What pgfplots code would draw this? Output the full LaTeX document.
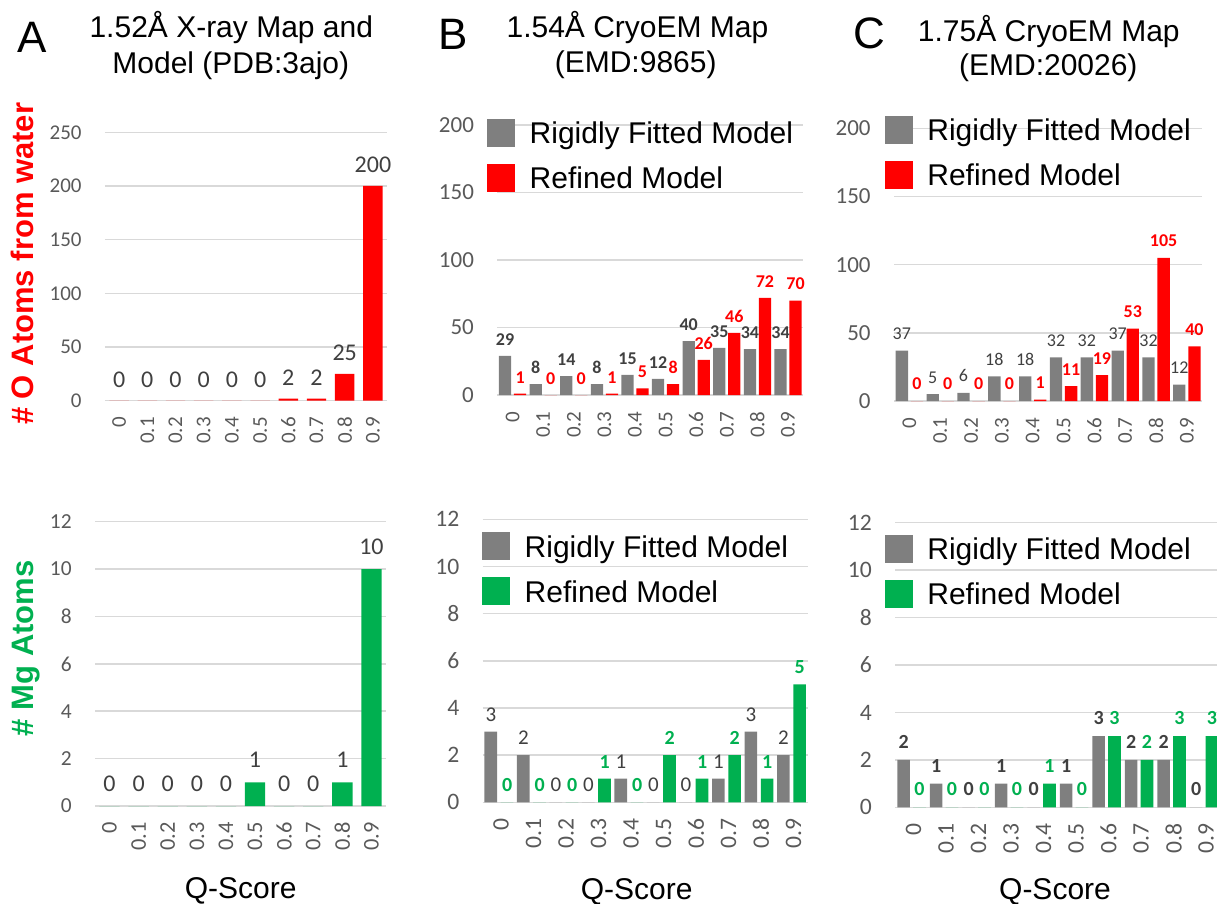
\documentclass[border=0pt]{standalone}
\usepackage{fontspec}
\setmainfont{Carlito}
\newfontfamily\arial{Liberation Sans}
\usepackage{pgfplots}
\pgfplotsset{compat=1.18}
\definecolor{barred}{HTML}{FF0000}
\definecolor{bargreen}{HTML}{00B050}
\definecolor{bargray}{HTML}{7F7F7F}
\definecolor{gridgray}{HTML}{D9D9D9}
\definecolor{tickgray}{HTML}{595959}
\definecolor{labgray}{HTML}{404040}
\pgfplotsset{
  base/.style={
    scale only axis, anchor=south west,
    ybar, xmin=-0.5, xmax=9.5, ymin=0,
    xtick={0,...,9}, xticklabels={0,0.1,0.2,0.3,0.4,0.5,0.6,0.7,0.8,0.9},
    axis line style={draw=none}, major tick length=0pt,
    ymajorgrids, grid style={gridgray, line width=0.75pt},
    /pgf/number format/assume math mode=true,
    tick label style={tickgray},
    xticklabel style={yshift=-8pt, rotate=90, anchor=east, inner sep=0pt},
    yticklabel style={anchor=east, inner sep=0pt, xshift=-11.5pt},
    clip=false,
    nodes near coords,
    every node near coord/.append style={inner sep=0pt, anchor=south},
  },
  sqlegend/.style={legend image code/.code={\fill[##1] (0pt,-5.45pt) rectangle (14pt,8.55pt);}},
  mylegend/.style 2 args={legend style={draw=none, fill=none, inner sep=0pt, outer sep=0pt,
      at={(#1,#2)}, anchor=north west, legend cell align=left, row sep=6.9pt, column sep=7.2pt,
      font=\arial\fontsize{15}{18}\selectfont,
      nodes={inner sep=0pt, text height=10.9pt, text depth=3.2pt}}},
}
\begin{document}
\begin{tikzpicture}
\path[use as bounding box] (0,0) rectangle (608.5pt,-452pt);
% titles
\begin{scope}[every node/.style={inner sep=0pt, anchor=base, font=\arial\fontsize{15}{18}\selectfont}]
\node at (115.65pt,-18.85pt) {1.52Å X-ray Map and};
\node at (115.4pt,-36.65pt) {Model (PDB:3ajo)};
\node at (318.75pt,-18.65pt) {1.54Å CryoEM Map};
\node at (317.85pt,-36.35pt) {(EMD:9865)};
\node at (524.4pt,-20.85pt) {1.75Å CryoEM Map};
\node at (524.15pt,-38pt) {(EMD:20026)};
\end{scope}
\begin{scope}[every node/.style={inner sep=0pt, anchor=base, font=\arial\fontsize{22}{24}\selectfont}]
\node at (15.85pt,-26.15pt) {A};
\node at (226.65pt,-25pt) {B};
\node at (434.5pt,-24.15pt) {C};
\end{scope}

% A top
\begin{axis}[base, at={(52.5pt,-200.35pt)}, width=141pt, height=134.2pt,
  ymax=250, ytick={0,50,...,250},
  tick label style={font=\fontsize{10.5}{12}\selectfont},
  ylabel={\# O Atoms from water},
  ylabel style={at={(axis description cs:-0.2543,0.510)}, anchor=base, inner sep=0pt,
    barred, font=\arial\bfseries\fontsize{15.5}{18}\selectfont},
  every node near coord/.append style={labgray, font=\fontsize{12}{14}\selectfont, yshift=6.5pt},
]
\addplot[fill=barred, draw=none, bar width=0.69, bar shift=0] coordinates {
(0,0) (1,0) (2,0) (3,0) (4,0) (5,0) (6,2) (7,2) (8,25) (9,200)};
\end{axis}

% B top
\begin{axis}[base, at={(248.65pt,-197.5pt)}, width=153pt, height=135pt,
  ymax=200, ytick={0,50,...,200},
  yticklabel style={font=\fontsize{11.5}{13}\selectfont},
  xticklabel style={font=\fontsize{10.5}{12}\selectfont},
  mylegend={-0.0327}{1.0222},
  every node near coord/.append style={font=\bfseries\fontsize{9}{10}\selectfont, yshift=5pt},
]
\addplot[fill=bargray, draw=none, bar width=0.40, bar shift=-0.245, sqlegend,
  every node near coord/.append style={labgray}] coordinates {
(0,29) (1,8) (2,14) (3,8) (4,15) (5,12) (6,40) (7,35) (8,34) (9,34)};
\addlegendentry{Rigidly Fitted Model}
\addplot[fill=barred, draw=none, bar width=0.40, bar shift=0.245, sqlegend,
  every node near coord/.append style={barred}] coordinates {
(0,1) (1,0) (2,0) (3,1) (4,5) (5,8) (6,26) (7,46) (8,72) (9,70)};
\addlegendentry{Refined Model}
\end{axis}

% C top
\begin{axis}[base, at={(447pt,-200.5pt)}, width=154.15pt, height=136.35pt,
  ymax=200, ytick={0,50,...,200},
  yticklabel style={font=\fontsize{11.5}{13}\selectfont},
  xticklabel style={font=\fontsize{10.5}{12}\selectfont},
  mylegend={-0.0292}{1.0451},
  every node near coord/.append style={yshift=5.3pt},
]
\addplot[fill=bargray, draw=none, bar width=0.40, bar shift=-0.245, sqlegend,
  every node near coord/.append style={labgray, font=\fontsize{9}{10}\selectfont}] coordinates {
(0,37) (1,5) (2,6) (3,18) (4,18) (5,32) (6,32) (7,37) (8,32) (9,12)};
\addlegendentry{Rigidly Fitted Model}
\addplot[fill=barred, draw=none, bar width=0.40, bar shift=0.245, sqlegend,
  every node near coord/.append style={barred, font=\bfseries\fontsize{9}{10}\selectfont}] coordinates {
(0,0) (1,0) (2,0) (3,0) (4,1) (5,11) (6,19) (7,53) (8,105) (9,40)};
\addlegendentry{Refined Model}
\end{axis}

% A bottom
\begin{axis}[base, at={(47.5pt,-403pt)}, width=145.5pt, height=142.15pt,
  ymax=12, ytick={0,2,...,12},
  yticklabel style={font=\fontsize{10.7}{12}\selectfont},
  xticklabel style={font=\fontsize{11.2}{12}\selectfont},
  ylabel={\# Mg Atoms},
  ylabel style={at={(axis description cs:-0.212,0.555)}, anchor=base, inner sep=0pt,
    bargreen, font=\arial\bfseries\fontsize{15.5}{18}\selectfont},
  xlabel={Q-Score},
  xlabel style={at={(axis description cs:0.5007,-0.3247)}, anchor=base, inner sep=0pt,
    font=\arial\fontsize{15}{18}\selectfont},
  every node near coord/.append style={labgray, font=\fontsize{12}{14}\selectfont, yshift=7pt},
]
\addplot[fill=bargreen, draw=none, bar width=0.70, bar shift=0] coordinates {
(0,0) (1,0) (2,0) (3,0) (4,0) (5,1) (6,0) (7,0) (8,1) (9,10)};
\end{axis}

% B bottom
\begin{axis}[base, at={(241.35pt,-401.15pt)}, width=162.5pt, height=141.5pt,
  ymax=12, ytick={0,2,...,12},
  yticklabel style={font=\fontsize{11.8}{13}\selectfont},
  xticklabel style={font=\fontsize{11.8}{13}\selectfont, yshift=-1pt},
  mylegend={-0.0012}{0.954},
  xlabel={Q-Score},
  xlabel style={at={(axis description cs:0.4738,-0.345)}, anchor=base, inner sep=0pt,
    font=\arial\fontsize{15}{18}\selectfont},
  every node near coord/.append style={yshift=5pt},
]
\addplot[fill=bargray, draw=none, bar width=0.39, bar shift=-0.25, sqlegend,
  every node near coord/.append style={labgray, font=\fontsize{10.5}{12}\selectfont}] coordinates {
(0,3) (1,2) (2,0) (3,0) (4,1) (5,0) (6,0) (7,1) (8,3) (9,2)};
\addlegendentry{Rigidly Fitted Model}
\addplot[fill=bargreen, draw=none, bar width=0.39, bar shift=0.25, sqlegend,
  every node near coord/.append style={bargreen, font=\bfseries\fontsize{10}{12}\selectfont}] coordinates {
(0,0) (1,0) (2,0) (3,1) (4,0) (5,2) (6,1) (7,2) (8,1) (9,5)};
\addlegendentry{Refined Model}
\end{axis}

% C bottom
\begin{axis}[base, at={(447.65pt,-403.65pt)}, width=162.5pt, height=142.3pt,
  ymax=12, ytick={0,2,...,12},
  yticklabel style={font=\fontsize{11.8}{13}\selectfont},
  xticklabel style={font=\fontsize{11.8}{13}\selectfont, yshift=-1pt},
  mylegend={-0.0317}{0.9568},
  xlabel={Q-Score},
  xlabel style={at={(axis description cs:0.4914,-0.3257)}, anchor=base, inner sep=0pt,
    font=\arial\fontsize{15}{18}\selectfont},
  every node near coord/.append style={yshift=5.5pt, font=\bfseries\fontsize{10}{12}\selectfont},
]
\addplot[fill=bargray, draw=none, bar width=0.39, bar shift=-0.245, sqlegend,
  every node near coord/.append style={labgray}] coordinates {
(0,2) (1,1) (2,0) (3,1) (4,0) (5,1) (6,3) (7,2) (8,2) (9,0)};
\addlegendentry{Rigidly Fitted Model}
\addplot[fill=bargreen, draw=none, bar width=0.39, bar shift=0.245, sqlegend,
  every node near coord/.append style={bargreen}] coordinates {
(0,0) (1,0) (2,0) (3,0) (4,1) (5,0) (6,3) (7,2) (8,3) (9,3)};
\addlegendentry{Refined Model}
\end{axis}
\end{tikzpicture}
\end{document}
